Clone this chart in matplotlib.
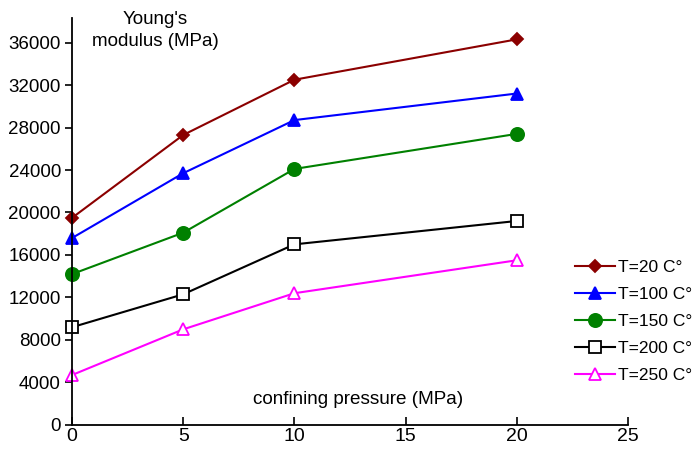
import matplotlib
matplotlib.use("Agg")
import matplotlib.pyplot as plt

pressure = [0, 5, 10, 20]
labels = ["T=20 C°", "T=100 C°", "T=150 C°", "T=200 C°", "T=250 C°"]
t20 = [19500, 27300, 32500, 36300]
t100 = [17600, 23700, 28700, 31200]
t150 = [14200, 18100, 24100, 27400]
t200 = [9200, 12300, 17000, 19200]
t250 = [4700, 9000, 12400, 15500]
yticks = [0, 4000, 8000, 12000, 16000, 20000, 24000, 28000, 32000, 36000]
xticks = [0, 5, 10, 15, 20, 25]

plt.rcParams['font.family'] = ['Liberation Sans', 'DejaVu Sans']
narrow = ['Liberation Sans Narrow', 'Liberation Sans']

fig = plt.figure(figsize=(7, 4.53), dpi=100)
ax = fig.add_axes([0.103, 0.062, 0.794, 0.898])

styles = [
    (t20, "#8B0000", "D", 6, "#8B0000"),
    (t100, "#0000FF", "^", 8, "#0000FF"),
    (t150, "#008000", "o", 9.5, "#008000"),
    (t200, "#000000", "s", 8, "white"),
    (t250, "#FF00FF", "^", 8, "white"),
]
for (vals, c, m, ms, fc), lab in zip(styles, labels):
    ax.plot(pressure, vals, color=c, marker=m, markersize=ms, markerfacecolor=fc,
            markeredgecolor=c, markeredgewidth=1.3, linewidth=1.5, label=lab, clip_on=False)

ax.set_xlim(0, 25)
ax.set_ylim(0, 38300)
ax.set_xticks(xticks)
ax.set_yticks(yticks)
ax.spines['top'].set_visible(False)
ax.spines['right'].set_visible(False)
ax.spines['left'].set_linewidth(1.3)
ax.spines['bottom'].set_linewidth(1.3)
ax.tick_params(axis='x', direction='in', length=6, width=1.2, labelsize=14, pad=2)
ax.tick_params(axis='y', direction='out', length=5, width=1.2, labelsize=13.5, pad=3)
for lbl in ax.get_xticklabels():
    lbl.set_family(narrow)

fig.text(155 / 700, 1 - 11 / 453, "Young's\nmodulus (MPa)", ha='center', va='top',
         fontsize=13.5, linespacing=1.4)
fig.text(358 / 700, 1 - 400 / 453, "confining pressure (MPa)", ha='center', va='center',
         fontsize=13.6, family=narrow)

fig.legend(loc='center left', bbox_to_anchor=(575 / 700, 0.291), frameon=False, fontsize=12.5,
           handlelength=2.3, handletextpad=0.15, labelspacing=0.68, borderaxespad=0,
           borderpad=0)

fig.savefig("out.png", dpi=100)
